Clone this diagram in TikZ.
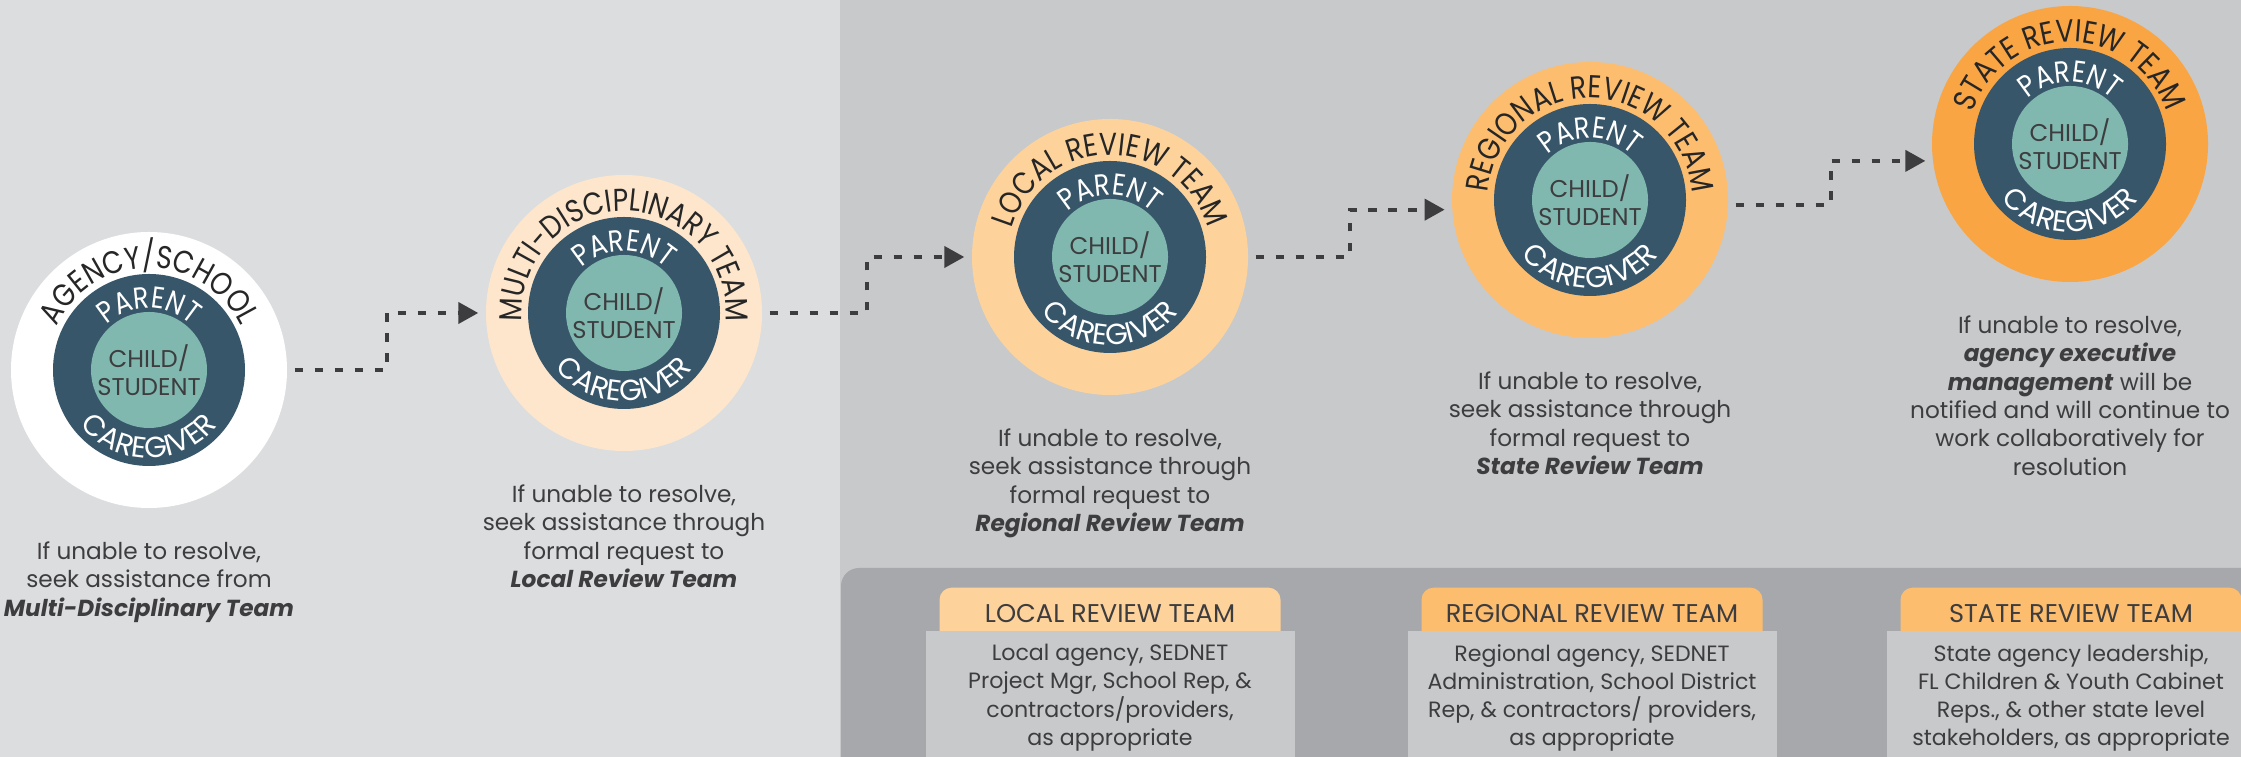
\documentclass[tikz,border=0pt]{standalone}
\usepackage{fontspec}
\setmainfont{Poppins}
\newfontfamily\ringFamily{Poppins}[FakeStretch=0.85]
\usepackage{tikz}
\usetikzlibrary{positioning, arrows.meta, calc, decorations.text}
\definecolor{leftGrey}{HTML}{DCDDDF}
\definecolor{rightGrey}{HTML}{C8C9CB}
\definecolor{bandGrey}{HTML}{A7A8AB}
\definecolor{slateBlue}{HTML}{37566A}
\definecolor{tealCore}{HTML}{80B8B0}
\definecolor{peachTeam}{HTML}{FDE6CB}
\definecolor{orangeLight}{HTML}{FED39B}
\definecolor{orangeMid}{HTML}{FDBD6F}
\definecolor{orangeDeep}{HTML}{F9A544}
\definecolor{inkGrey}{HTML}{3D3D3F}
\definecolor{ringInk}{HTML}{262626}
\newcommand{\noteFont}{\fontsize{6.6}{8.1}\selectfont}
\newcommand{\ringFont}{\ringFamily\fontsize{9}{10}\selectfont}
\newcommand{\parentFont}{\ringFamily\fontsize{8.6}{10}\selectfont}
\newcommand{\caregiverFont}{\fontsize{8.3}{10}\selectfont}
\newcommand{\coreFont}{\fontsize{6.9}{8}\selectfont}
\newcommand{\headFont}{\fontsize{7.3}{8.5}\selectfont}
\newcommand{\cardFont}{\fontsize{6.3}{8}\selectfont}
\newcommand{\teamName}[1]{\textbf{\textit{#1}}}

\begin{document}
\begin{tikzpicture} [
    teamCircle/.style={circle, fill=#1, inner sep=0pt, minimum size=2.76cm},
    familyRing/.style={circle, fill=slateBlue, inner sep=0pt, minimum size=1.92cm},
    childCore/.style={circle, fill=tealCore, inner sep=0pt, minimum size=1.16cm, align=center, text=inkGrey, font=\coreFont},
    note/.style={align=center, text=inkGrey, font=\noteFont, inner sep=0pt},
    cardHead/.style={fill=#1, rounded corners=0.12cm, minimum width=3.41cm, text height=0.25cm, text depth=0.3cm, inner ysep=0.1cm, text=inkGrey, font=\headFont, anchor=north},
    cardBody/.style={fill=rightGrey, minimum width=3.69cm, minimum height=1.34cm, inner sep=0pt, align=center, text=inkGrey, font=\cardFont, anchor=north},
    outerText/.style={decorate, decoration={text along path, text align=center, text color=ringInk, text={|\ringFont|#1}}},
    parentText/.style={decorate, decoration={text along path, text align=center, text color=white, text={|\parentFont|PARENT}}},
    caregiverText/.style={decorate, decoration={text along path, text align=center, text color=white, text={|\caregiverFont|CAREGIVER}}},
    stairs/.style={to path={-| ($(\tikztostart)!0.5!(\tikztotarget)$) |- (\tikztotarget)}},
    flow/.style={draw=inkGrey, line width=0.04cm, dash pattern=on 0.085cm off 0.115cm, -{Triangle[length=0.2cm, width=0.21cm]}, shorten <=0.07cm, shorten >=0.07cm}
]
    \useasboundingbox (0,0) rectangle (22.41,7.57);
    \clip (0,0) rectangle (22.41,7.57);

    % background panels
    \fill[leftGrey] (0,0) rectangle (8.40,7.57);
    \fill[rightGrey] (8.40,0) rectangle (22.41,7.57);
    \fill[bandGrey, rounded corners=0.18cm] (8.41,-0.5) rectangle (23,1.89);

    % team cards
    \node[cardHead=orangeLight] (lrtHead) at (11.10,1.70) {LOCAL REVIEW TEAM};
    \node[cardBody] (lrtCard) at (11.10,1.27) {Local agency, SEDNET\\Project Mgr, School Rep, \&\\contractors/providers,\\as appropriate};
    \node[cardHead=orangeMid] (rrtHead) at (15.92,1.70) {REGIONAL REVIEW TEAM};
    \node[cardBody] (rrtCard) at (15.92,1.27) {Regional agency, SEDNET\\Administration, School District\\Rep, \& contractors/ providers,\\as appropriate};
    \node[cardHead=orangeMid] (srtHead) at (20.71,1.70) {STATE REVIEW TEAM};
    \node[cardBody] (srtCard) at (20.71,1.27) {State agency leadership,\\FL Children \& Youth Cabinet\\Reps., \& other state level\\stakeholders, as appropriate};

    % circles
    \node[teamCircle=white] (agency) at (1.49,3.87) {};
    \node[teamCircle=peachTeam] (mdt) at (6.24,4.44) {};
    \node[teamCircle=orangeLight] (lrt) at (11.10,5.00) {};
    \node[teamCircle=orangeMid] (rrt) at (15.90,5.57) {};
    \node[teamCircle=orangeDeep] (srt) at (20.70,6.13) {};

    \node[familyRing] (agencyRing) at (agency) {};
    \node[familyRing] (mdtRing) at (mdt) {};
    \node[familyRing] (lrtRing) at (lrt) {};
    \node[familyRing] (rrtRing) at (rrt) {};
    \node[familyRing] (srtRing) at (srt) {};

    \node[childCore] (agencyCore) at (agency) {CHILD/\\STUDENT};
    \node[childCore] (mdtCore) at (mdt) {CHILD/\\STUDENT};
    \node[childCore] (lrtCore) at (lrt) {CHILD/\\STUDENT};
    \node[childCore] (rrtCore) at (rrt) {CHILD/\\STUDENT};
    \node[childCore] (srtCore) at (srt) {CHILD/\\STUDENT};

    % ring labels
    \path[outerText={AGENCY/SCHOOL}] (agency.center) ++(200:1.02) arc[start angle=200, end angle=-20, radius=1.02];
    \path[outerText={MULTI-DISCIPLINARY TEAM}] (mdt.center) ++(200:1.02) arc[start angle=200, end angle=-20, radius=1.02];
    \path[outerText={LOCAL REVIEW TEAM}] (lrt.center) ++(200:1.02) arc[start angle=200, end angle=-20, radius=1.02];
    \path[outerText={REGIONAL REVIEW TEAM}] (rrt.center) ++(200:1.02) arc[start angle=200, end angle=-20, radius=1.02];
    \path[outerText={STATE REVIEW TEAM}] (srt.center) ++(200:1.02) arc[start angle=200, end angle=-20, radius=1.02];
    \foreach \c in {agency, mdt, lrt, rrt, srt} {
        \path[parentText] (\c.center) ++(200:0.62) arc[start angle=200, end angle=-20, radius=0.62];
        \path[caregiverText] (\c.center) ++(180:0.88) arc[start angle=180, end angle=360, radius=0.88];
    }

    % steps
    \draw[flow] (agency.east) to[stairs] (mdt.west);
    \draw[flow] (mdt.east) to[stairs] (lrt.west);
    \draw[flow] (lrt.east) to[stairs] (rrt.184);
    \draw[flow] (rrt.-2) to[stairs] (srt.187);

    % notes
    \node[note, below=0.32 of agency] (agencyNote) {If unable to resolve,\\seek assistance from\\\teamName{Multi-Disciplinary Team}};
    \node[note, below=0.32 of mdt] (mdtNote) {If unable to resolve,\\seek assistance through\\formal request to\\\teamName{Local Review Team}};
    \node[note, below=0.32 of lrt] (lrtNote) {If unable to resolve,\\seek assistance through\\formal request to\\\teamName{Regional Review Team}};
    \node[note, below=0.32 of rrt] (rrtNote) {If unable to resolve,\\seek assistance through\\formal request to\\\teamName{State Review Team}};
    \node[note, below=0.32 of srt] (srtNote) {If unable to resolve,\\\teamName{agency executive}\\\teamName{management} will be\\notified and will continue to\\work collaboratively for\\resolution};
\end{tikzpicture}
\end{document}
